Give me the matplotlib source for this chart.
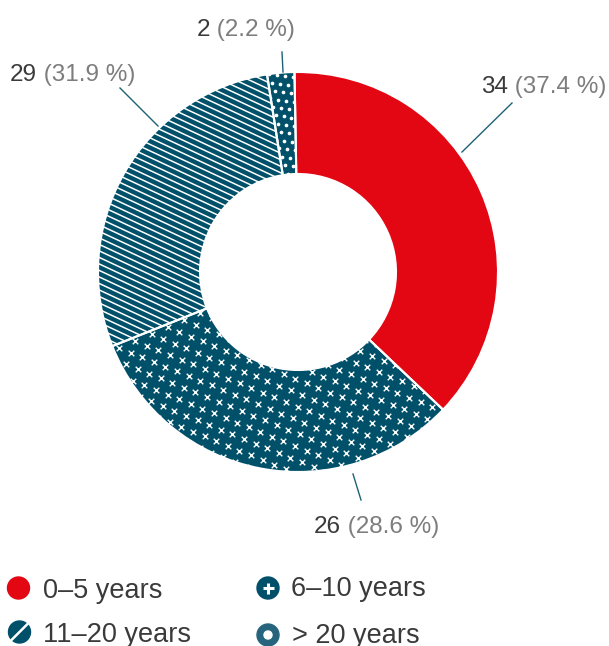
import numpy as np
import matplotlib.pyplot as plt
from matplotlib.patches import Circle
from matplotlib.collections import LineCollection

plt.rcParams['font.family'] = ['Liberation Sans', 'DejaVu Sans']

# --- DATA ---
categories = ['0–5 years', '6–10 years', '11–20 years', '> 20 years']
counts = [34, 26, 29, 2]
percents = [37.4, 28.6, 31.9, 2.2]
# arc sizes as they are drawn in the source chart (clockwise from the top);
# there the 6–10 and 11–20 arcs look swapped relative to their labels
arc_shares = [37.4, 31.9, 28.6, 2.2]

RED = '#e30613'
TEAL = '#00506a'
TEAL_LIGHT = '#27657f'
DARK = '#3a3a3a'
GREY = '#7d7d7d'

W, H = 609, 646
fig = plt.figure(figsize=(W / 100, H / 100), dpi=100)
ax = fig.add_axes([0, 0, 1, 1])

cx, cy = 298, H - 272
R, ring = 200, 102

wedges, _ = ax.pie(arc_shares, colors=[RED, TEAL, TEAL, TEAL], center=(cx, cy),
                   radius=R, startangle=91, counterclock=False,
                   wedgeprops=dict(width=ring, linewidth=0, zorder=1))


def lattice(step, angle, n, stagger=False):
    i, j = np.meshgrid(np.arange(-n, n + 1), np.arange(-n, n + 1))
    u = i * step + ((j % 2) * step / 2 if stagger else 0)
    v = j * step
    a = np.deg2rad(angle)
    x = cx + u * np.cos(a) - v * np.sin(a)
    y = cy + u * np.sin(a) + v * np.cos(a)
    return x.ravel(), y.ravel()


# crosses for 6-10 years
px, py = lattice(12.5, -22, 26)
sc = ax.scatter(px, py, marker='x', s=16, color='white', linewidths=1.0, zorder=2)
sc.set_clip_path(wedges[1])

# stripes for 11-20 years
ang = np.deg2rad(-25)
d = np.array([np.cos(ang), np.sin(ang)])
nrm = np.array([-d[1], d[0]])
segs = []
for k in range(-60, 61):
    p0 = np.array([cx, cy]) + k * 5.9 * nrm
    segs.append([p0 - 320 * d, p0 + 320 * d])
lc = LineCollection(segs, colors='white', linewidths=1.1, zorder=2)
ax.add_collection(lc)
lc.set_clip_path(wedges[2])

# dots for > 20 years
dx, dy = lattice(8, -8, 40, stagger=True)
sd = ax.scatter(dx, dy, marker='o', s=7, color='white', linewidths=0, zorder=2)
sd.set_clip_path(wedges[3])

# white gaps between wedges
ax.pie(arc_shares, colors=['none'] * 4, center=(cx, cy), radius=R, startangle=91,
       counterclock=False,
       wedgeprops=dict(width=ring, edgecolor='white', linewidth=1.5, zorder=3))

# --- LABELS (layout in screen pixels, y down) ---
label_pos = [(481, 93), (314, 533), (10, 81), (197, 36)]
leaders = [((462, 152), (512, 103)), ((353, 474), (361, 500)),
           ((158, 126), (120, 88)), ((283, 72), (282, 52))]

for n, pct, (lx, ly), (a, b) in zip(counts, percents, label_pos, leaders):
    ax.plot([a[0], b[0]], [H - a[1], H - b[1]], color='#1d6176', lw=1.0, zorder=4)
    t = ax.text(lx, H - ly, f'{n}', color=DARK, fontsize=17.5, ha='left', va='baseline')
    ax.annotate(f' ({pct} %)', xy=(1, 0), xycoords=t, ha='left', va='bottom',
                color=GREY, fontsize=17.5)

# --- LEGEND ---
icon_pos = [(18.5, 588), (268, 588), (19.5, 632), (268, 635)]
text_pos = [(43, 598), (291, 596), (43, 642), (292, 643)]
r_icon = 11
for k, (cat, (ix, iy), (tx, ty)) in enumerate(zip(categories, icon_pos, text_pos)):
    iy = H - iy
    col = [RED, TEAL, TEAL, TEAL_LIGHT][k]
    ax.add_patch(Circle((ix, iy), r_icon, color=col, zorder=5))
    if k == 1:
        ax.plot([ix - 5.5, ix + 5.5], [iy, iy], color='white', lw=2.2, zorder=6,
                solid_capstyle='butt')
        ax.plot([ix, ix], [iy - 5.5, iy + 5.5], color='white', lw=2.2, zorder=6,
                solid_capstyle='butt')
    elif k == 2:
        ax.plot([ix - 9, ix + 9], [iy - 9, iy + 9], color='white', lw=1.8, zorder=6)
    elif k == 3:
        ax.add_patch(Circle((ix, iy), 4, color='white', zorder=6))
    ax.text(tx, H - ty, cat, color=DARK, fontsize=19.5, ha='left', va='baseline')

ax.set_xlim(0, W)
ax.set_ylim(0, H)
ax.set_aspect('equal')
ax.axis('off')

fig.savefig('out.png', dpi=100, facecolor='white')
